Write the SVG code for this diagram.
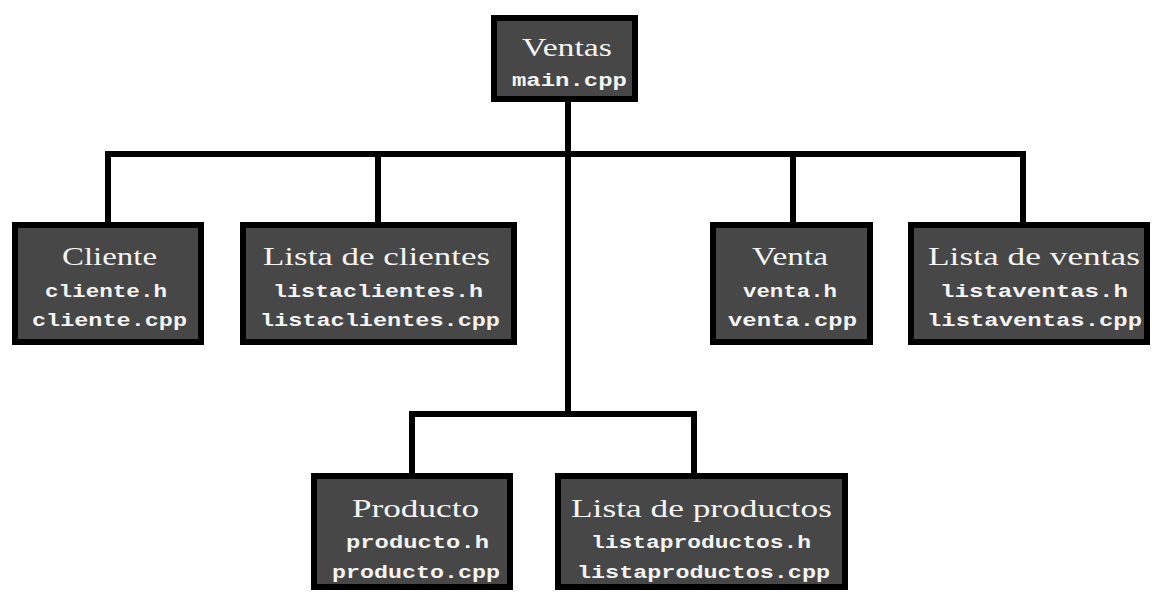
<svg xmlns="http://www.w3.org/2000/svg" width="1152" height="592" viewBox="0 0 1152 592">
<style>
.box{fill:#474747;stroke:#000;stroke-width:6}
.t{font-family:"Liberation Serif",serif;font-size:25px;fill:#f4f4f4;text-anchor:start}
.s{font-family:"Liberation Mono",monospace;font-size:19px;font-weight:bold;fill:#f4f4f4;text-anchor:start}
.c{fill:none;stroke:#000;stroke-width:6;stroke-linecap:square}
</style>
<rect width="1152" height="592" fill="#fff"/>
<g id="connectors">
<path class="c" d="M568 102V414"/>
<path class="c" d="M108 222V154H1023V222"/>
<path class="c" d="M378 154V222"/>
<path class="c" d="M793 154V222"/>
<path class="c" d="M412 473V414H694V473"/>
</g>
<g id="ventas">
<rect class="box" x="494" y="18" width="141" height="81"/>
<text class="t" x="522" y="56" textLength="90" lengthAdjust="spacingAndGlyphs">Ventas</text>
<text class="s" x="512" y="86" textLength="115" lengthAdjust="spacingAndGlyphs">main.cpp</text>
</g>
<g id="cliente">
<rect class="box" x="15" y="225" width="186" height="117"/>
<text class="t" x="62" y="265" textLength="95" lengthAdjust="spacingAndGlyphs">Cliente</text>
<text class="s" x="45" y="297" textLength="122" lengthAdjust="spacingAndGlyphs">cliente.h</text>
<text class="s" x="32" y="326" textLength="155" lengthAdjust="spacingAndGlyphs">cliente.cpp</text>
</g>
<g id="lista-clientes">
<rect class="box" x="243" y="225" width="271" height="117"/>
<text class="t" x="263" y="265" textLength="227" lengthAdjust="spacingAndGlyphs">Lista de clientes</text>
<text class="s" x="273" y="297" textLength="210" lengthAdjust="spacingAndGlyphs">listaclientes.h</text>
<text class="s" x="260" y="326" textLength="240" lengthAdjust="spacingAndGlyphs">listaclientes.cpp</text>
</g>
<g id="venta">
<rect class="box" x="713" y="225" width="157" height="117"/>
<text class="t" x="752" y="265" textLength="76" lengthAdjust="spacingAndGlyphs">Venta</text>
<text class="s" x="743" y="297" textLength="94" lengthAdjust="spacingAndGlyphs">venta.h</text>
<text class="s" x="728" y="326" textLength="129" lengthAdjust="spacingAndGlyphs">venta.cpp</text>
</g>
<g id="lista-ventas">
<rect class="box" x="911" y="225" width="236" height="117"/>
<text class="t" x="928" y="265" textLength="212" lengthAdjust="spacingAndGlyphs">Lista de ventas</text>
<text class="s" x="940" y="297" textLength="188" lengthAdjust="spacingAndGlyphs">listaventas.h</text>
<text class="s" x="927" y="326" textLength="215" lengthAdjust="spacingAndGlyphs">listaventas.cpp</text>
</g>
<g id="producto">
<rect class="box" x="314" y="476" width="196" height="111"/>
<text class="t" x="352" y="517" textLength="127" lengthAdjust="spacingAndGlyphs">Producto</text>
<text class="s" x="346" y="548" textLength="143" lengthAdjust="spacingAndGlyphs">producto.h</text>
<text class="s" x="332" y="578" textLength="168" lengthAdjust="spacingAndGlyphs">producto.cpp</text>
</g>
<g id="lista-productos">
<rect class="box" x="558" y="476" width="287" height="111"/>
<text class="t" x="571" y="517" textLength="261" lengthAdjust="spacingAndGlyphs">Lista de productos</text>
<text class="s" x="591" y="548" textLength="220" lengthAdjust="spacingAndGlyphs">listaproductos.h</text>
<text class="s" x="577" y="578" textLength="253" lengthAdjust="spacingAndGlyphs">listaproductos.cpp</text>
</g>
</svg>
